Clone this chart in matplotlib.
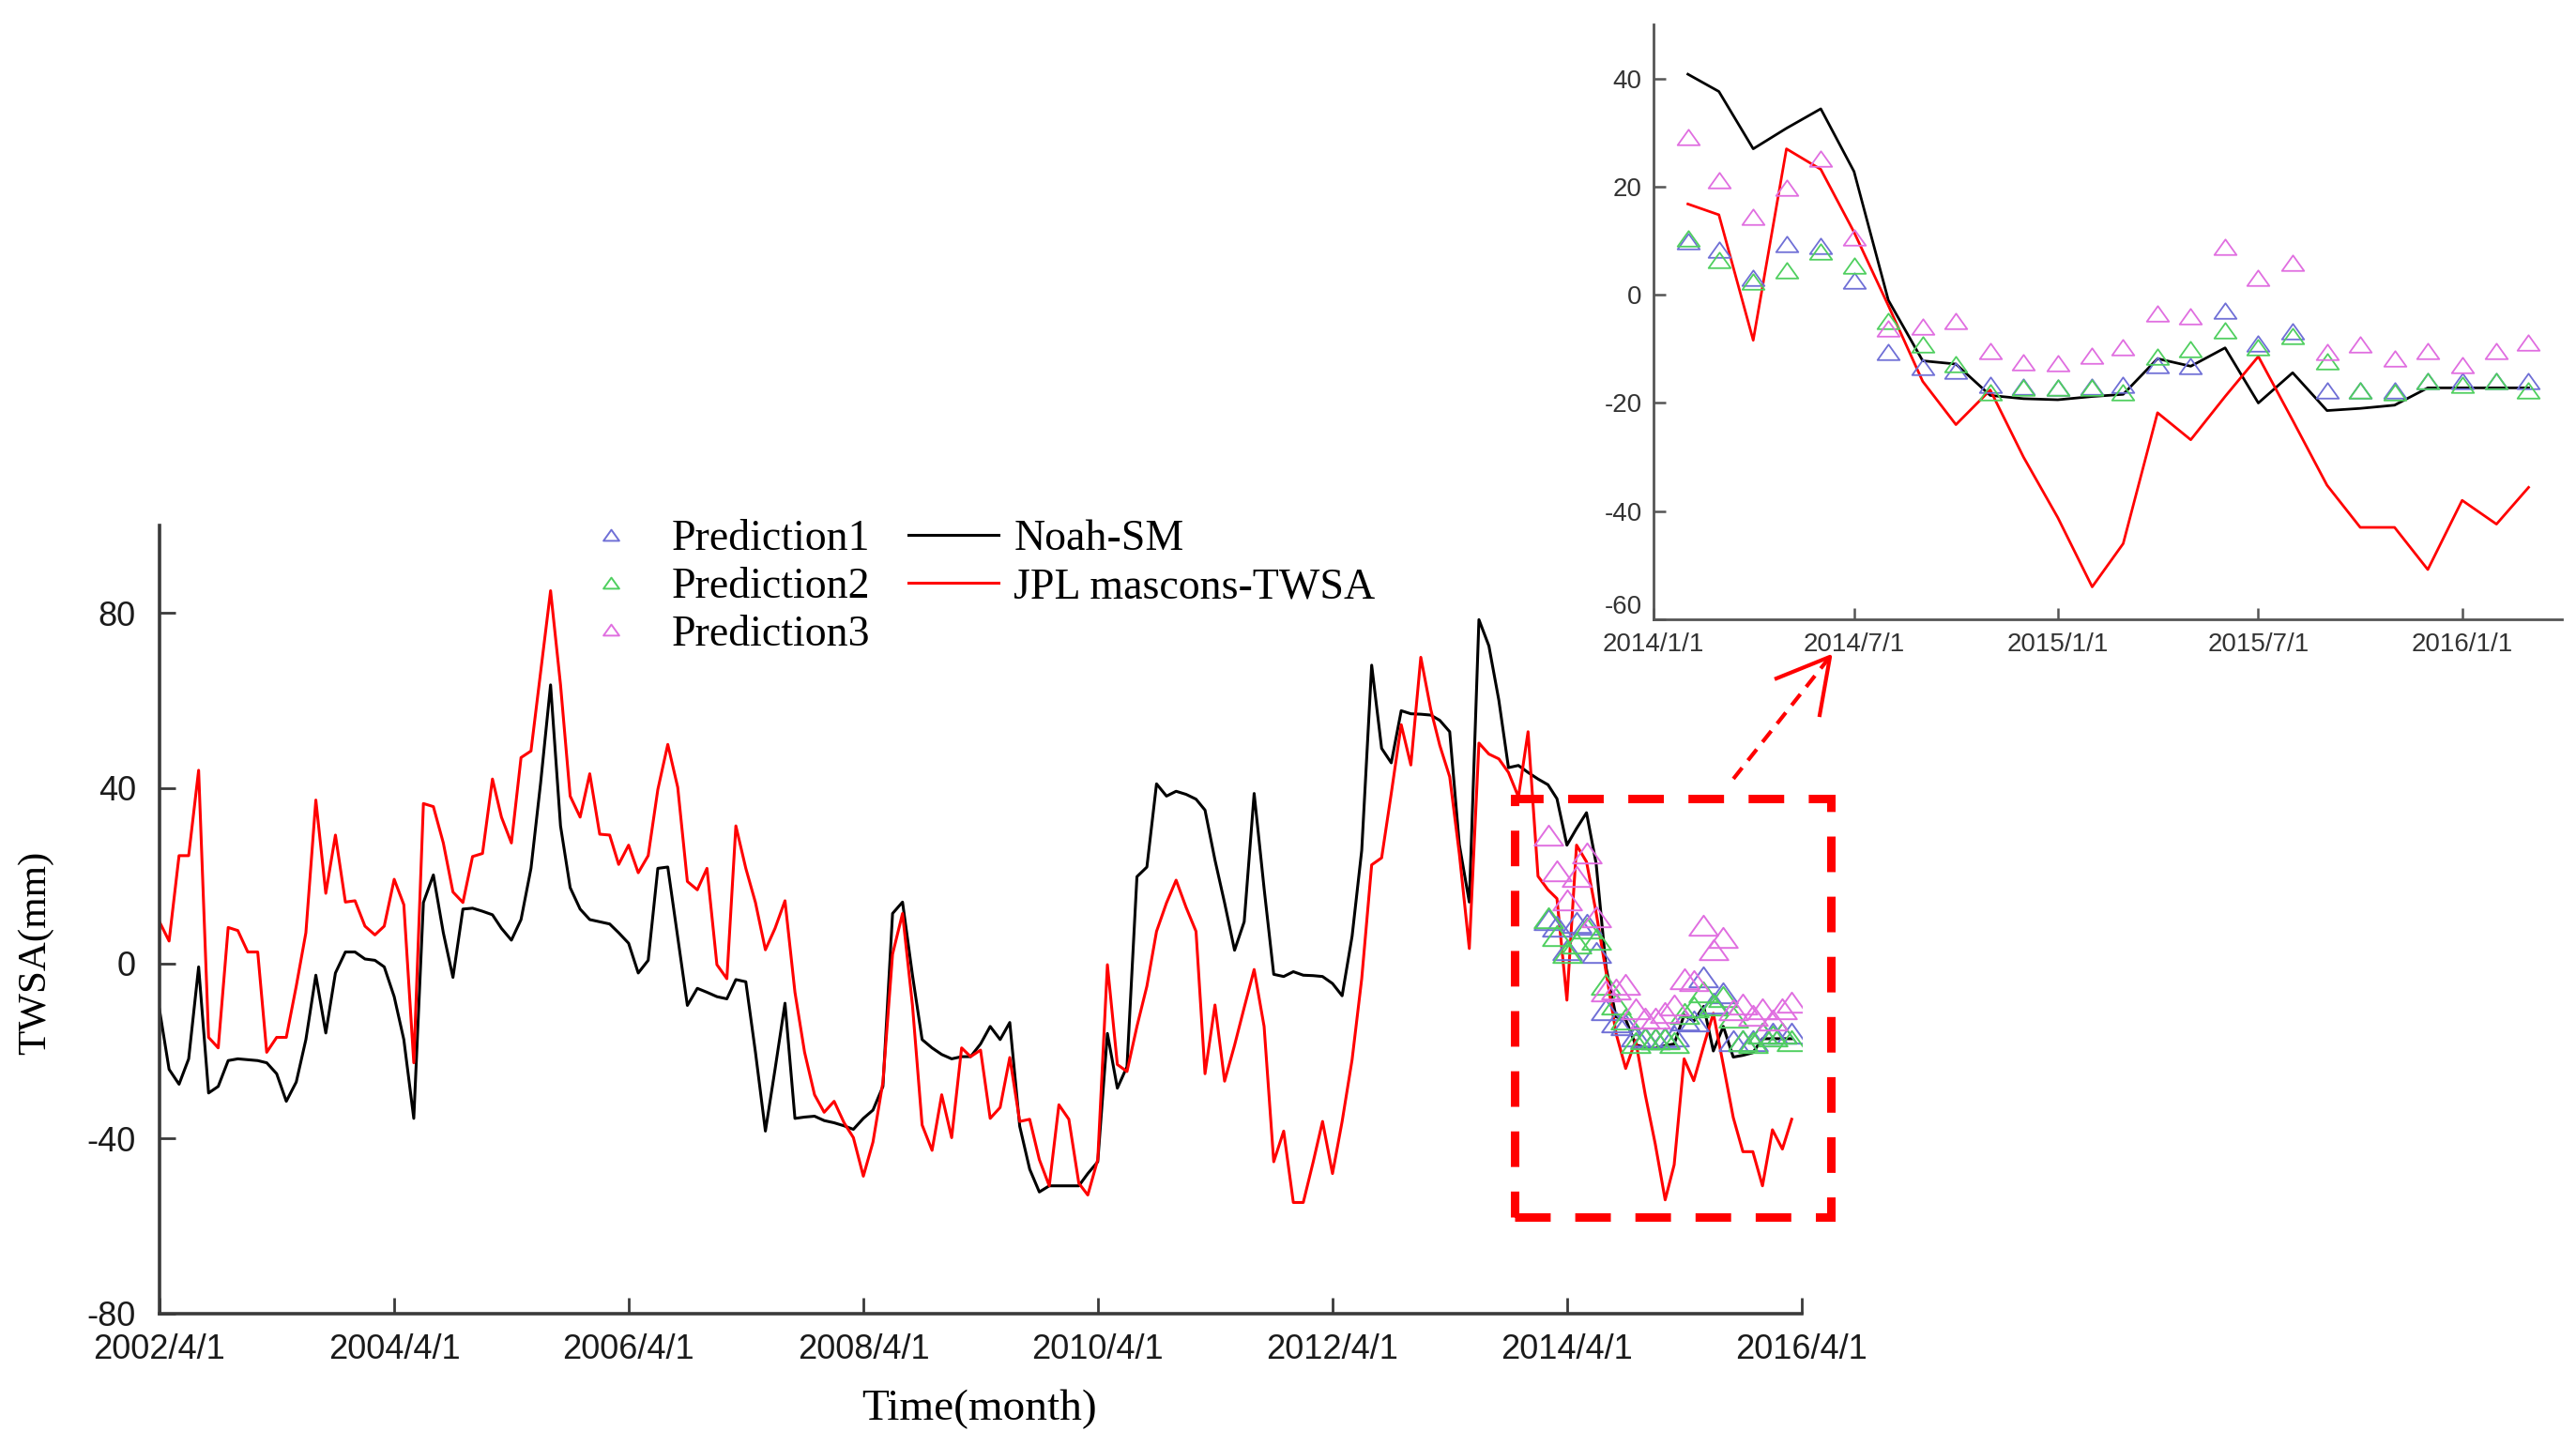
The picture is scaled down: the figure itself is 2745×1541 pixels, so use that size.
import numpy as np
import pandas as pd
import matplotlib
matplotlib.use("Agg")
import matplotlib.pyplot as plt
from matplotlib.lines import Line2D
from matplotlib.patches import Rectangle
from matplotlib.path import Path

#==================== data ====================
months = pd.date_range("2002-04-01", periods=168, freq="MS")   # 2002/4 .. 2016/3

noah_sm = [
    -10.5, -24.2, -27.6, -21.8, -0.8, -29.6, -28.1, -22.2, -21.8, -22.0, -22.2, -22.7,
    -25.2, -31.5, -27.1, -17.4, -2.7, -15.9, -2.2, 2.6, 2.6, 1.0, 0.7, -0.8,
    -7.6, -17.4, -35.4, 13.9, 20.2, 7.0, -3.2, 12.4, 12.6, 11.9, 11.1, 8.0,
    5.3, 10.0, 21.7, 41.2, 63.6, 31.4, 17.3, 12.4, 10.0, 9.5, 9.0, 7.0,
    4.6, -2.2, 0.7, 21.7, 22.0, 6.0, -9.6, -5.7, -6.6, -7.6, -8.1, -3.7,
    -4.2, -20.3, -38.3, -24.2, -9.1, -35.4, -35.1, -34.9, -35.9, -36.4, -37.1, -37.9,
    -35.4, -33.5, -28.1, 11.4, 14.0, -2.7, -17.4, -19.3, -20.8, -21.8, -21.3, -21.3,
    -18.4, -14.4, -17.4, -13.5, -37.2, -47.0, -52.2, -50.8, -50.8, -50.8, -50.8, -48.0,
    -45.3, -16.0, -28.5, -23.6, 19.8, 22.0, 41.0, 38.2, 39.3, 38.6, 37.5, 35.0,
    23.6, 13.8, 3.0, 9.5, 38.8, 17.1, -2.5, -3.0, -1.9, -2.7, -2.8, -3.0,
    -4.6, -7.4, 6.2, 25.8, 68.1, 49.1, 45.8, 57.7, 57.0, 56.9, 56.7, 55.5,
    52.9, 27.1, 14.0, 78.5, 72.5, 60.1, 44.7, 45.2, 43.6, 42.1,
    40.8, 37.6, 27.0, 30.8, 34.4, 22.8, -1.0, -12.2, -12.8, -18.6, -19.2, -19.4,
    -18.8, -18.4, -11.8, -13.2, -9.8, -20.0, -14.4, -21.4, -21.0, -20.4, -17.2, -17.2,
    -17.2, -17.2,
]

jpl_twsa = [
    9.5, 5.1, 24.6, 24.6, 44.1, -16.9, -19.3, 8.2, 7.5, 2.6, 2.6, -20.3,
    -16.9, -16.9, -5.2, 7.0, 37.3, 16.0, 29.3, 14.0, 14.3, 8.5, 6.5, 8.5,
    19.2, 13.4, -22.7, 36.5, 35.8, 27.5, 16.3, 13.9, 24.4, 25.1, 42.1, 33.4,
    27.5, 47.0, 48.5, 66.5, 85.1, 63.6, 38.2, 33.4, 43.3, 29.5, 29.3, 22.6,
    27.0, 20.7, 24.6, 39.7, 50.0, 40.2, 18.7, 16.8, 21.7, -0.3, -3.5, 31.4,
    21.7, 13.9, 3.1, 8.0, 14.3, -6.6, -20.3, -30.0, -34.0, -31.5, -36.4, -39.8,
    -48.6, -40.8, -27.1, 2.1, 11.4, -9.6, -36.9, -42.7, -30.0, -39.8, -19.3, -21.3,
    -19.8, -35.4, -32.9, -21.5, -36.1, -35.6, -44.8, -50.8, -32.3, -35.6, -50.2, -52.9,
    -44.8, -0.3, -23.1, -24.7, -14.4, -5.2, 7.3, 13.8, 19.0, 12.8, 7.3, -25.2,
    -9.5, -26.9, -18.7, -10.1, -1.4, -14.4, -45.3, -38.3, -54.6, -54.6, -45.3, -36.1,
    -48.0, -36.1, -22.0, -3.5, 22.5, 24.1, 38.8, 54.5, 45.3, 69.9, 58.0, 49.8,
    42.6, 25.0, 3.4, 50.3, 47.8, 46.7, 43.6, 38.0, 52.9, 19.9,
    16.8, 14.8, -8.4, 27.0, 23.2, 11.6, -2.0, -16.0, -24.0, -17.6, -30.0, -41.2,
    -54.0, -46.0, -21.8, -26.8, -18.8, -11.4, -23.2, -35.2, -43.0, -43.0, -50.8, -38.0,
    -42.4, -35.6,
]

pred_months = pd.date_range("2014-02-01", periods=26, freq="MS")   # 2014/2 .. 2016/3
prediction1 = [10.0, 8.4, 3.2, 9.4, 9.0, 2.6, -10.6, -13.4, -14.0, -16.6, -17.0, -17.2,
               -17.0, -16.6, -13.0, -13.2, -3.0, -9.0, -6.8, -17.6, -17.6, -17.6, -16.0, -16.0,
               -16.0, -16.0]
prediction2 = [10.4, 6.4, 2.4, 4.6, 8.0, 5.4, -4.8, -9.2, -12.8, -18.0, -17.2, -17.2,
               -17.2, -18.0, -11.4, -10.0, -6.6, -9.6, -7.6, -12.2, -17.6, -18.0, -16.0, -16.6,
               -16.0, -17.6]
prediction3 = [29.2, 21.2, 14.4, 19.8, 25.2, 10.6, -6.2, -5.8, -4.8, -10.4, -12.4, -12.6,
               -11.2, -9.6, -3.4, -4.0, 8.8, 3.2, 6.0, -10.6, -9.2, -11.8, -10.4, -13.0,
               -10.4, -8.8]

series_names = ["Prediction1", "Prediction2", "Prediction3", "Noah-SM", "JPL mascons-TWSA"]
pred_colors = ["#6f6fd6", "#4fcf5f", "#e06ee0"]

main_ticks = pd.date_range("2002-04-01", "2016-04-01", freq="24MS")
inset_ticks = pd.date_range("2014-01-01", "2016-01-01", freq="6MS")

#==================== drawing ====================
plt.rcParams["font.family"] = ["Liberation Sans", "DejaVu Sans"]
plt.rcParams["axes.unicode_minus"] = False
serif = ["Liberation Serif", "DejaVu Serif"]

# flat open triangle, closed outline
tri = Path([(-1.0, -0.7), (1.0, -0.7), (0.0, 0.7), (-1.0, -0.7)], closed=True)


def date_label(d):
    return f"{d.year}/{d.month}/{d.day}"


fig = plt.figure(figsize=(27.45, 15.41), dpi=100)

# main panel
ax = fig.add_axes([0.0619, 0.0915, 0.6375, 0.5451])
ax.plot(months, noah_sm, color="black", lw=2.2, label=series_names[3])
ax.plot(months, jpl_twsa, color="red", lw=2.2, label=series_names[4])
for vals, c, name in zip([prediction1, prediction2, prediction3], pred_colors, series_names[:3]):
    ax.plot(pred_months, vals, ls="none", marker=tri, ms=22, mfc="none", mec=c, mew=1.4,
            zorder=3, label=name)

ax.set_xlim(pd.Timestamp("2002-04-01"), pd.Timestamp("2016-04-01"))
ax.set_ylim(-80, 100)
ax.set_yticks([-80, -40, 0, 40, 80])
ax.set_xticks(main_ticks)
ax.set_xticklabels([date_label(d) for d in main_ticks])
for s in ["top", "right"]:
    ax.spines[s].set_visible(False)
for s in ["left", "bottom"]:
    ax.spines[s].set_color("#3a3a3a")
    ax.spines[s].set_linewidth(2.6)
ax.tick_params(direction="in", length=12, width=2, colors="#3a3a3a", labelcolor="#1a1a1a",
               labelsize=26)
ax.tick_params(axis="x", pad=15)
ax.tick_params(axis="y", pad=18)

ax.set_xlabel("Time(month)", family=serif, fontsize=34, va="center")
ax.xaxis.set_label_coords(0.499, -0.1214)
ax.set_ylabel("TWSA(mm)", family=serif, fontsize=31, va="center")
ax.yaxis.set_label_coords(-0.0754, 0.458)

h, l = ax.get_legend_handles_labels()
order = [2, 3, 4, 0, 1]
leg = fig.legend([h[i] for i in order], [l[i] for i in order], ncol=2,
                 loc="upper left", bbox_to_anchor=(0.2197, 0.6405),
                 frameon=False, prop={"family": serif, "size": 33},
                 handlelength=2.1, handletextpad=0.35, columnspacing=0.9,
                 labelspacing=0.175, borderpad=0, borderaxespad=0, markerscale=0.55)

# inset panel
axi = fig.add_axes([0.6419, 0.5717, 0.3526, 0.4114])
axi.plot(pred_months, noah_sm[-26:], color="black", lw=2)
axi.plot(pred_months, jpl_twsa[-26:], color="red", lw=2)
for vals, c in zip([prediction1, prediction2, prediction3], pred_colors):
    axi.plot(pred_months, vals, ls="none", marker=tri, ms=17, mfc="none", mec=c, mew=1.3)
axi.set_xlim(pd.Timestamp("2014-01-01"), pd.Timestamp("2016-03-31"))
axi.set_ylim(-60, 50)
axi.set_yticks([-60, -40, -20, 0, 20, 40])
axi.set_xticks(inset_ticks)
axi.set_xticklabels([date_label(d) for d in inset_ticks])
for s in ["top", "right"]:
    axi.spines[s].set_visible(False)
for s in ["left", "bottom"]:
    axi.spines[s].set_color("#555555")
    axi.spines[s].set_linewidth(2)
axi.tick_params(direction="in", length=9, width=1.8, colors="#555555", labelcolor="#333333",
                labelsize=20)
axi.tick_params(axis="x", pad=10)
axi.tick_params(axis="y", pad=9)
# keep the origin labels "-60" and "2014/1/1" apart
axi.get_yticklabels()[0].set_va("bottom")

# zoom box and arrow
fig.add_artist(Rectangle((0.588, 0.1583), 0.1227, 0.2895, transform=fig.transFigure,
                         fill=False, ec="red", lw=6.5, ls=(0, (4.2, 2.9))))
fig.add_artist(Line2D([0.6729, 0.7104], [0.4614, 0.5458], transform=fig.transFigure,
                      color="red", lw=3, ls=(0, (3.6, 2.4))))
fig.add_artist(Line2D([0.6896, 0.7104, 0.7064], [0.5308, 0.5458, 0.5055],
                      transform=fig.transFigure, color="red", lw=3))

fig.savefig("out.png", dpi=100, facecolor="white")
